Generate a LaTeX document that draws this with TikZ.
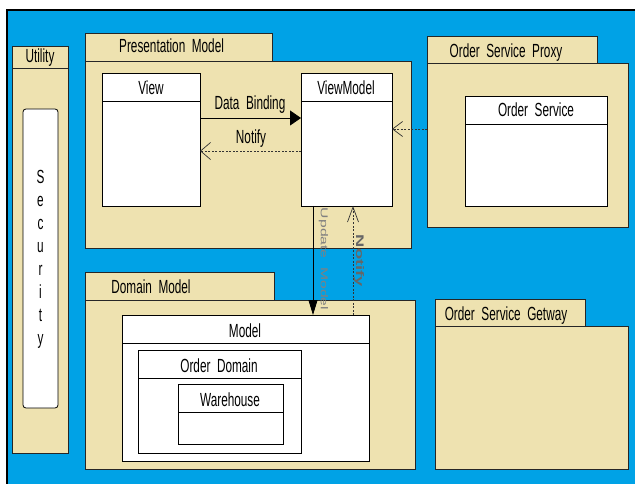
\documentclass[tikz,border=0pt]{standalone}
\usepackage{fontspec}
\setmainfont[FakeStretch=0.62]{Liberation Sans}
\newfontfamily\plainsans{Liberation Sans}
\usetikzlibrary{arrows.meta}
\definecolor{bgblue}{RGB}{0,162,230}
\definecolor{pkgtan}{RGB}{238,226,176}

\begin{document}
\begin{tikzpicture}[x=1pt,y=-1pt,
  pkg/.style={draw=black!85, fill=pkgtan, line width=0.9pt, rectangle,
              inner sep=0pt, outer sep=0pt, anchor=north west},
  cls/.style={draw=black, fill=white, line width=0.8pt, rectangle,
              inner sep=0pt, outer sep=0pt, anchor=north west},
  lbl/.style={font=\fontsize{19}{21}\selectfont, inner sep=0pt, text=black, anchor=base},
  vlbl/.style={inner sep=0pt, rotate=-90},
  hdr/.style={draw=black, line width=0.8pt},
  flow/.style={draw=black, line width=0.8pt},
  back/.style={draw=black!80, line width=0.7pt, dash pattern=on 2pt off 1.5pt}
]
\useasboundingbox (0,0) rectangle (635,484);

% canvas
\fill[bgblue] (7,10) rectangle (635,484);
\draw[black, line width=1.2pt] (7,484) -- (7,10) -- (635,10);

% ---------- Utility ----------
\node[pkg, minimum width=56pt, minimum height=23pt] (uttab) at (12,46) {};
\node[pkg, minimum width=56pt, minimum height=385pt] (ut) at (12,68) {};
\node[lbl] (utlbl) at (40,63) {Utility};
\node[cls, rounded corners=3pt, minimum width=35pt, minimum height=299pt] (sec) at (23,109) {};
\foreach \ch [count=\i from 0] in {S,e,c,u,r,i,t,y}
  \node[lbl] (sec\i) at (40.5,183+23.1*\i) {\ch};

% ---------- Presentation Model ----------
\node[pkg, minimum width=187pt, minimum height=28pt] (pmtab) at (85,33) {};
\node[pkg, minimum width=326pt, minimum height=187pt] (pm) at (85,61) {};
\node[lbl, anchor=base west] (pmlbl) at (119,53) {Presentation~~Model};

\node[cls, minimum width=98pt, minimum height=133pt] (view) at (102,73) {};
\draw[hdr] (102,101) -- (200,101);
\node[lbl] (viewlbl) at (151,95) {View};

\node[cls, minimum width=91pt, minimum height=133pt] (vm) at (301,73) {};
\draw[hdr] (301,101) -- (392,101);
\node[lbl] (vmlbl) at (346,95) {ViewModel};

% ---------- Order Service Proxy ----------
\node[pkg, minimum width=170pt, minimum height=27pt] (osptab) at (427,36) {};
\node[pkg, minimum width=201pt, minimum height=164pt] (osp) at (427,63) {};
\node[lbl] (osplbl) at (506,58) {Order~~Service~~Proxy};

\node[cls, minimum width=142pt, minimum height=110pt] (os) at (465,96) {};
\draw[hdr] (465,124) -- (607,124);
\node[lbl] (oslbl) at (536,117) {Order~~Service};

% ---------- Domain Model ----------
\node[pkg, minimum width=189pt, minimum height=28pt] (dmtab) at (85,272) {};
\node[pkg, minimum width=330pt, minimum height=169pt] (dm) at (85,300) {};
\node[lbl] (dmlbl) at (151,293) {Domain~~Model};

\node[cls, minimum width=247pt, minimum height=146pt] (model) at (122,315) {};
\draw[hdr] (122,343) -- (369,343);
\node[lbl] (modellbl) at (245,337) {Model};

\node[cls, minimum width=163pt, minimum height=103pt] (od) at (138,350) {};
\draw[hdr] (138,378) -- (301,378);
\node[lbl] (odlbl) at (219,372) {Order~~Domain};

\node[cls, minimum width=105pt, minimum height=60pt] (wh) at (178,384) {};
\draw[hdr] (178,412) -- (283,412);
\node[lbl] (whlbl) at (230,406) {Warehouse};

% ---------- Order Service Getway ----------
\node[pkg, minimum width=150pt, minimum height=27pt] (osgtab) at (435,299) {};
\node[pkg, minimum width=193pt, minimum height=143pt] (osg) at (435,326) {};
\node[lbl] (osglbl) at (506,320) {Order~~Service~~Getway};

% ---------- connectors ----------
\draw[flow, -{Triangle[length=11pt,width=15pt]}]
  ([yshift=21.5pt]view.east) -- ([yshift=21.5pt]vm.west);
\node[lbl] (dblbl) at (250,110) {Data~~Binding};

\draw[back, -{Straight Barb[length=10pt,width=17pt,line width=0.7pt]}]
  ([yshift=-11.5pt]vm.west) -- ([yshift=-11.5pt]view.east);
\node[lbl] (ntlbl) at (251,144) {Notify};

\draw[back, -{Straight Barb[length=10pt,width=15pt,line width=0.7pt]}]
  ([yshift=16pt]osp.west) -- ([yshift=10.5pt]vm.east);

\draw[flow, -{Triangle[length=15pt,width=9pt]}]
  ([xshift=-33.5pt]vm.south) -- ([xshift=67.5pt]model.north);
\node[vlbl, text=black!50] (umlbl) at (323.5,259)
  {\plainsans\fontsize{10}{10}\selectfont\scalebox{1.57}[1]{Update~~Model}};

\draw[back, -{Straight Barb[length=15pt,width=11pt,line width=0.7pt]}]
  ([xshift=107.5pt]model.north) -- ([xshift=6.5pt]vm.south);
\node[vlbl, text=black!60] (nvlbl) at (359,261)
  {\plainsans\bfseries\fontsize{11}{11}\selectfont\scalebox{1.67}[1]{Notify}};

\end{tikzpicture}
\end{document}
